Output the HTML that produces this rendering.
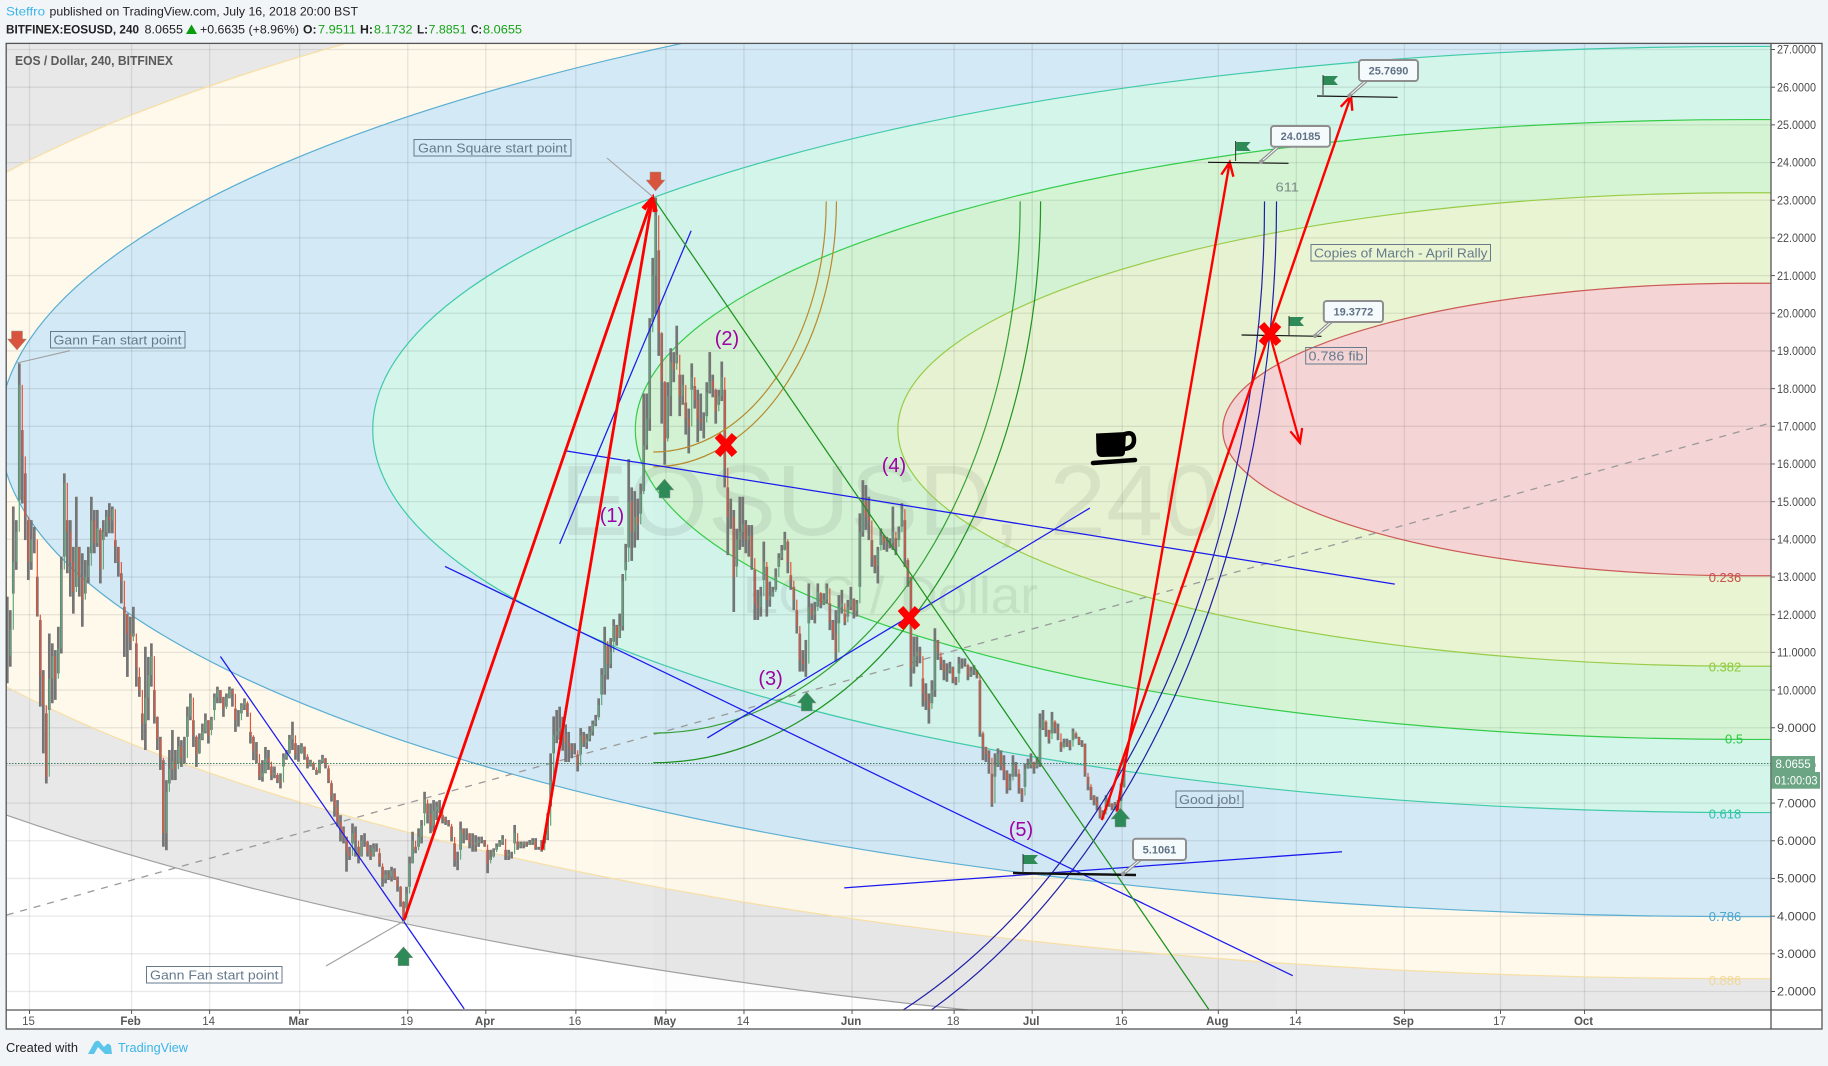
<!DOCTYPE html>
<html lang="en">
<head>
<meta charset="utf-8">
<title>EOS / Dollar, 240, BITFINEX</title>
<style>
html,body{margin:0;padding:0;background:#f1f5f8;}
svg{display:block;font-family:"Liberation Sans",sans-serif;}
</style>
</head>
<body>
<svg id="chart" xmlns="http://www.w3.org/2000/svg" width="1828" height="1066" viewBox="0 0 1828 1066">
  <defs>
    <clipPath id="plot-clip"><rect x="6.5" y="43.5" width="1764.5" height="966.5"/></clipPath>
  </defs>
  <rect x="0" y="0" width="1828" height="1066" fill="#f1f5f8"/>
  <rect x="6" y="43" width="1816" height="986" fill="#ffffff"/>

  <g clip-path="url(#plot-clip)">
    <g id="fib-fills"></g>
    <g id="grid"></g>
    <rect x="653" y="201" width="623" height="810" fill="rgba(50,50,160,0.012)"/>
    <text x="560" y="535" font-size="100" textLength="660" lengthAdjust="spacingAndGlyphs" fill="rgba(60,60,60,0.09)">EOSUSD, 240</text>
    <text x="743" y="613" font-size="52" textLength="295" lengthAdjust="spacingAndGlyphs" fill="rgba(60,60,60,0.09)">EOS / Dollar</text>
    <g id="fib-lines"></g>
    <g id="diagonal"></g>
    <g id="bars"></g>
    <line x1="6" y1="763.5" x2="1771" y2="763.5" stroke="#3d7d5c" stroke-width="1" stroke-dasharray="1.5 1.5"/>
    <g id="arcs"></g>
    <g id="trends"></g>
    <g id="arrows"></g>
  </g>

  <g stroke="#a0a0a0" stroke-width="1.1" fill="none">
    <line x1="17" y1="363" x2="70" y2="350.7"/>
    <line x1="607" y1="158" x2="652.7" y2="196.7"/>
    <line x1="326" y1="966" x2="404" y2="921"/>
  </g>

  <g stroke="#111" stroke-width="1.2">
    <line x1="1208" y1="162.3" x2="1288.5" y2="163.3"/>
    <line x1="1317" y1="96" x2="1397.6" y2="97.3"/>
    <line x1="1241.6" y1="335" x2="1321.5" y2="336.3"/>
    <line x1="1013" y1="873" x2="1136" y2="875" stroke-width="2.4"/>
  </g>

  <g>
    <g transform="translate(1235.6,141)"><line x1="0" y1="0" x2="0" y2="20" stroke="#333"/><polygon points="0.5,1 15,1 11,5.5 15,10 0.5,10" fill="#2e8b57"/></g>
    <g transform="translate(1323,75)"><line x1="0" y1="0" x2="0" y2="20" stroke="#333"/><polygon points="0.5,1 15,1 11,5.5 15,10 0.5,10" fill="#2e8b57"/></g>
    <g transform="translate(1289,316)"><line x1="0" y1="0" x2="0" y2="20" stroke="#333"/><polygon points="0.5,1 15,1 11,5.5 15,10 0.5,10" fill="#2e8b57"/></g>
    <g transform="translate(1023,854)"><line x1="0" y1="0" x2="0" y2="19" stroke="#333"/><polygon points="0.5,1 15,1 11,5.5 15,10 0.5,10" fill="#2e8b57"/></g>
  </g>

  <g font-size="11" font-weight="bold" text-anchor="middle">
    <g>
      <line x1="1279" y1="146" x2="1261" y2="161.7" stroke="#8e8e8e" stroke-width="3.4"/>
      <line x1="1279" y1="146" x2="1263" y2="160" stroke="#f5fbfd" stroke-width="1.1"/>
      <circle cx="1261" cy="161.7" r="2" fill="#999"/>
      <rect x="1271" y="126" width="59" height="20.7" rx="3" fill="#f5fbfd" stroke="#8e8e8e" stroke-width="2"/>
      <text x="1300.5" y="140" fill="#5f7184">24.0185</text>
    </g>
    <g>
      <line x1="1367" y1="80" x2="1349.3" y2="95.7" stroke="#8e8e8e" stroke-width="3.4"/>
      <line x1="1367" y1="80" x2="1351.3" y2="94" stroke="#f5fbfd" stroke-width="1.1"/>
      <circle cx="1349.3" cy="95.7" r="2" fill="#999"/>
      <rect x="1359" y="60" width="59" height="21" rx="3" fill="#f5fbfd" stroke="#8e8e8e" stroke-width="2"/>
      <text x="1388.5" y="74.5" fill="#5f7184">25.7690</text>
    </g>
    <g>
      <line x1="1332" y1="321" x2="1315" y2="336" stroke="#8e8e8e" stroke-width="3.4"/>
      <line x1="1332" y1="321" x2="1317" y2="334.3" stroke="#f5fbfd" stroke-width="1.1"/>
      <circle cx="1315" cy="336" r="2" fill="#999"/>
      <rect x="1323.8" y="301" width="59.2" height="21" rx="3" fill="#f5fbfd" stroke="#8e8e8e" stroke-width="2"/>
      <text x="1353.4" y="315.5" fill="#5f7184">19.3772</text>
    </g>
    <g>
      <line x1="1141" y1="859" x2="1123" y2="874" stroke="#8e8e8e" stroke-width="3.4"/>
      <line x1="1141" y1="859" x2="1125" y2="872.3" stroke="#f5fbfd" stroke-width="1.1"/>
      <circle cx="1123" cy="874" r="2" fill="#999"/>
      <rect x="1133" y="838.7" width="53" height="21.3" rx="3" fill="#f5fbfd" stroke="#8e8e8e" stroke-width="2"/>
      <text x="1159.5" y="853.5" fill="#5f7184">5.1061</text>
    </g>
  </g>

  <g stroke="#9a9a9a" stroke-width="0.5">
    <polygon transform="translate(17,331)" points="-5.5,0 5.5,0 5.5,8 9.5,8 0,19 -9.5,8 -5.5,8" fill="#d9543c"/>
    <polygon transform="translate(655.5,172)" points="-5.5,0 5.5,0 5.5,8 9.5,8 0,19 -9.5,8 -5.5,8" fill="#d9543c"/>
    <polygon transform="translate(403.5,946.7)" points="0,0 9.5,11 5.5,11 5.5,19 -5.5,19 -5.5,11 -9.5,11" fill="#2e8b57"/>
    <polygon transform="translate(664.5,479)" points="0,0 9.5,11 5.5,11 5.5,19 -5.5,19 -5.5,11 -9.5,11" fill="#2e8b57"/>
    <polygon transform="translate(806.7,692)" points="0,0 9.5,11 5.5,11 5.5,19 -5.5,19 -5.5,11 -9.5,11" fill="#2e8b57"/>
    <polygon transform="translate(1120.5,808)" points="0,0 9.5,11 5.5,11 5.5,19 -5.5,19 -5.5,11 -9.5,11" fill="#2e8b57"/>
  </g>

  <g stroke="#ff0000" stroke-width="7.5">
    <g transform="translate(726,445)"><line x1="-8.5" y1="-9.5" x2="8.5" y2="9.5"/><line x1="8.5" y1="-9.5" x2="-8.5" y2="9.5"/></g>
    <g transform="translate(909,618)"><line x1="-8.5" y1="-9.5" x2="8.5" y2="9.5"/><line x1="8.5" y1="-9.5" x2="-8.5" y2="9.5"/></g>
    <g transform="translate(1270,334)"><line x1="-8.5" y1="-9.5" x2="8.5" y2="9.5"/><line x1="8.5" y1="-9.5" x2="-8.5" y2="9.5"/></g>
  </g>

  <g>
    <path d="M1096 433.5 L1126 432 L1125 452 Q1125 456.5 1120 456.5 L1102 457 Q1097 457 1096.5 452 Z" fill="#000"/>
    <path d="M1125 434 Q1134 431 1134 440 Q1134 448 1124 449" fill="none" stroke="#000" stroke-width="4.5"/>
    <line x1="1093" y1="463" x2="1135" y2="460" stroke="#000" stroke-width="4.5" stroke-linecap="round"/>
  </g>

  <g font-size="20" fill="#a100a6" text-anchor="middle">
    <text x="612" y="522">(1)</text>
    <text x="727" y="345">(2)</text>
    <text x="770.6" y="685">(3)</text>
    <text x="894" y="472">(4)</text>
    <text x="1021" y="836">(5)</text>
  </g>

  <g font-size="13" fill="#667a8c">
    <g><rect x="414" y="139.5" width="157" height="16.5" fill="none" stroke="#667a8c"/><text x="418" y="152.5" textLength="149" lengthAdjust="spacingAndGlyphs">Gann Square start point</text></g>
    <g><rect x="50.5" y="331.5" width="134.5" height="16.5" fill="none" stroke="#667a8c"/><text x="53.5" y="344.5" textLength="128" lengthAdjust="spacingAndGlyphs">Gann Fan start point</text></g>
    <g><rect x="146.5" y="966.5" width="135.5" height="16.5" fill="none" stroke="#667a8c"/><text x="150" y="979.5" textLength="128.5" lengthAdjust="spacingAndGlyphs">Gann Fan start point</text></g>
    <g><rect x="1311" y="244.5" width="179.5" height="16.5" fill="none" stroke="#667a8c"/><text x="1314" y="257.5" textLength="173.5" lengthAdjust="spacingAndGlyphs">Copies of March - April Rally</text></g>
    <g><rect x="1305.7" y="347.5" width="60.8" height="16.5" fill="none" stroke="#667a8c"/><text x="1308.5" y="360.5" textLength="55" lengthAdjust="spacingAndGlyphs">0.786 fib</text></g>
    <g><rect x="1176" y="791" width="67" height="16.5" fill="none" stroke="#667a8c"/><text x="1179" y="804" textLength="61" lengthAdjust="spacingAndGlyphs">Good job!</text></g>
    <text x="1275.5" y="191.5" fill="#7d8a86" textLength="23.5" lengthAdjust="spacingAndGlyphs">611</text>
  </g>

  <text x="15" y="65" font-size="13" font-weight="bold" fill="#5a5a5a" textLength="158" lengthAdjust="spacingAndGlyphs">EOS / Dollar, 240, BITFINEX</text>

  <g id="fib-labels"></g>

  <g fill="none" stroke="#555555" stroke-width="1.3">
    <rect x="6.2" y="43.4" width="1815.8" height="985.6"/>
    <line x1="1771" y1="43.4" x2="1771" y2="1029"/>
    <line x1="6.2" y1="1010" x2="1822" y2="1010"/>
  </g>
  <g id="x-axis"></g>
  <g id="y-axis"></g>

  <g font-size="11.5" fill="#ffffff">
    <rect x="1771.4" y="756" width="43.6" height="16" fill="#6ba583"/>
    <text x="1775.5" y="768">8.0655</text>
    <rect x="1771.4" y="772" width="48.6" height="16.7" fill="#6ba583"/>
    <text x="1774.5" y="784.5" textLength="43" lengthAdjust="spacingAndGlyphs">01:00:03</text>
  </g>

  <g font-size="12">
    <text x="6" y="15.7" fill="#3cb4e8" textLength="39" lengthAdjust="spacingAndGlyphs">Steffro</text>
    <text x="49.5" y="15.7" fill="#222" textLength="308.5" lengthAdjust="spacingAndGlyphs">published on TradingView.com, July 16, 2018 20:00 BST</text>
  </g>
  <g font-size="12" fill="#222">
    <text x="6" y="33.7" font-weight="bold" textLength="133" lengthAdjust="spacingAndGlyphs">BITFINEX:EOSUSD, 240</text>
    <text x="144.5" y="33.7" textLength="38.5" lengthAdjust="spacingAndGlyphs">8.0655</text>
    <polygon points="191.5,24.5 197,34 186,34" fill="#0a9d0a"/>
    <text x="200" y="33.7" textLength="99" lengthAdjust="spacingAndGlyphs">+0.6635 (+8.96%)</text>
    <text x="303" y="33.7" font-weight="bold" textLength="13.5" lengthAdjust="spacingAndGlyphs">O:</text>
    <text x="318" y="33.7" fill="#16a316" textLength="38" lengthAdjust="spacingAndGlyphs">7.9511</text>
    <text x="360" y="33.7" font-weight="bold" textLength="13" lengthAdjust="spacingAndGlyphs">H:</text>
    <text x="374" y="33.7" fill="#16a316" textLength="38.5" lengthAdjust="spacingAndGlyphs">8.1732</text>
    <text x="417" y="33.7" font-weight="bold" textLength="11" lengthAdjust="spacingAndGlyphs">L:</text>
    <text x="428.5" y="33.7" fill="#16a316" textLength="38" lengthAdjust="spacingAndGlyphs">7.8851</text>
    <text x="471" y="33.7" font-weight="bold" textLength="11" lengthAdjust="spacingAndGlyphs">C:</text>
    <text x="483" y="33.7" fill="#16a316" textLength="39" lengthAdjust="spacingAndGlyphs">8.0655</text>
  </g>

  <g>
    <text x="6" y="1052" font-size="12.5" fill="#222" textLength="72" lengthAdjust="spacingAndGlyphs">Created with</text>
    <path d="M88 1054 L94 1043 Q96 1040 99 1041 L104 1047 L107 1044 Q109 1043 111 1046 L112 1054 L105 1054 L98 1047 L94 1054 Z" fill="#5cc5ea"/>
    <text x="118" y="1052" font-size="12.5" fill="#3cb4e8" textLength="70" lengthAdjust="spacingAndGlyphs">TradingView</text>
  </g>
</svg>

<script>
const firstBarDay = -3.7;
const barStepDays = 0.5;
const barHigh = [
12.48,12.12,14.87,14.51,18.67,16.90,15.75,14.51,14.51,14.33,13.01,11.86,10.53,9.38,11.50,11.24,11.06,11.68,13.54,15.75,14.51,14.51,13.80,15.13,13.80,13.63,13.45,13.80,15.13,14.78,14.78,14.25,14.51,14.78,14.96,14.87,13.98,13.80,13.10,12.21,12.03,11.95,12.21,11.24,10.35,9.38,11.15,10.88,11.24,10.00,9.29,8.76,8.14,7.61,8.41,8.94,8.41,8.76,8.67,8.76,9.56,9.91,9.20,8.76,8.85,9.11,9.38,9.20,9.29,9.91,10.09,10.00,9.82,9.91,10.09,10.04,9.51,9.47,9.65,9.78,9.65,8.89,8.76,8.62,8.05,8.14,8.49,
8.41,7.97,7.97,7.75,7.79,8.32,8.41,8.81,9.16,8.59,8.54,8.59,8.50,8.23,8.15,8.06,7.88,8.15,8.28,8.19,7.92,7.53,7.26,7.08,6.68,6.38,6.11,5.84,6.46,6.38,5.84,6.15,6.20,5.98,5.89,5.93,5.93,5.67,5.31,5.22,5.22,5.31,5.27,5.05,4.78,4.38,4.78,5.58,6.24,5.84,6.33,6.55,7.30,6.99,6.99,7.08,7.04,7.08,6.68,6.64,6.55,6.38,5.93,5.71,6.51,6.33,6.33,6.20,6.20,6.15,6.11,6.11,6.02,5.76,5.76,5.80,5.93,6.02,6.15,5.76,5.76,5.71,6.42,5.98,5.98,5.98,5.98,6.02,6.07,6.07,5.84,6.02,6.11,6.73,8.32,9.30,9.47,9.56,
9.29,9.09,8.89,8.59,8.59,8.29,8.99,8.89,8.84,9.04,9.19,9.34,9.78,10.58,11.68,11.18,11.38,11.88,11.73,12.03,13.08,13.88,16.13,15.38,15.28,15.08,15.48,17.87,17.87,19.87,21.47,23.07,21.67,19.47,18.17,18.17,19.07,18.97,19.67,18.37,18.37,17.63,17.47,18.67,18.07,17.97,17.87,17.37,18.17,18.97,18.37,17.97,17.97,18.72,17.97,15.38,15.08,14.78,14.28,
15.13,15.13,14.51,14.38,14.38,13.19,12.66,12.74,13.94,13.27,12.88,12.74,13.23,13.63,13.85,14.20,13.94,13.05,12.74,12.12,11.50,11.06,11.33,12.83,12.30,12.34,12.83,12.57,12.57,12.83,12.30,11.86,12.12,12.52,12.66,12.03,12.39,12.74,12.43,12.39,14.69,15.57,15.44,15.13,13.98,13.58,13.80,14.29,14.11,14.07,14.03,14.87,14.03,14.34,14.96,14.51,13.45,13.01,11.42,11.42,11.15,10.31,10.18,9.91,10.26,11.64,11.33,10.88,10.80,10.71,10.75,10.62,10.35,10.88,10.84,10.84,10.66,10.62,10.66,10.53,
10.26,8.85,8.49,8.40,7.78,8.32,8.45,8.40,8.27,7.87,7.78,8.27,8.09,7.78,7.39,8.05,8.18,8.32,8.09,8.23,9.38,9.47,9.16,8.94,9.42,9.16,9.11,8.62,8.71,8.71,8.67,8.98,8.85,8.76,8.67,8.58,7.70,7.43,7.21,7.17,6.90,6.81,7.21,7.12,6.99,7.03,7.08,7.52,8.18
];
const barLow = [
10.18,10.62,12.56,13.19,15.04,14.95,13.98,12.92,13.19,13.63,11.95,9.56,8.32,7.52,9.47,9.65,9.74,10.44,10.97,13.54,13.10,12.48,12.03,12.74,12.48,11.68,12.56,12.83,13.63,13.63,13.80,12.83,13.98,14.07,14.16,14.16,13.37,13.01,12.30,10.88,10.35,11.06,11.42,10.09,9.82,8.67,8.41,9.20,10.09,9.11,8.41,7.88,5.84,5.75,7.52,7.61,7.61,8.05,7.96,8.05,8.76,9.20,8.49,7.96,8.32,8.67,8.85,8.58,8.94,9.47,9.65,9.65,9.29,9.56,9.78,9.56,8.89,9.03,9.38,9.47,9.29,8.58,8.14,8.05,7.61,7.57,7.79,
7.88,7.61,7.66,7.53,7.39,7.97,8.15,8.32,8.41,8.15,8.10,8.32,8.15,7.92,7.97,7.88,7.75,7.79,8.06,7.92,7.53,7.04,6.64,6.38,5.98,5.93,5.18,5.49,5.93,5.58,5.40,5.58,5.84,5.58,5.49,5.58,5.71,5.31,4.78,4.87,4.96,4.92,4.96,4.65,4.25,3.85,4.21,4.78,5.40,5.67,5.84,5.93,6.73,6.46,6.20,6.24,6.55,6.73,6.46,6.42,6.38,5.98,5.31,5.22,5.76,5.93,6.02,5.80,5.71,5.71,5.84,5.93,5.84,5.14,5.49,5.58,5.76,5.84,5.89,5.49,5.49,5.53,5.93,5.76,5.80,5.80,5.84,5.89,5.89,5.76,5.76,5.71,5.93,6.02,6.91,8.32,8.59,8.68,
8.39,8.09,8.09,8.19,8.29,7.84,8.29,8.49,8.44,8.64,8.79,9.04,9.28,9.88,9.88,10.28,10.58,11.28,11.18,11.38,11.58,13.18,13.78,13.43,13.78,13.98,14.68,15.28,16.38,16.88,19.77,19.97,18.87,17.07,15.98,16.68,17.27,18.17,18.67,17.27,17.57,16.78,16.28,17.97,17.47,16.58,16.88,16.68,17.27,17.87,17.77,17.07,17.57,17.67,15.38,13.58,14.28,12.07,13.28,
13.72,13.80,13.63,13.54,13.19,11.86,11.86,11.95,12.92,11.95,12.21,12.48,12.66,13.27,13.45,13.72,13.10,12.66,12.12,11.50,10.49,10.49,10.35,11.77,11.86,11.77,12.21,12.17,12.26,12.30,11.59,11.33,10.75,11.77,12.03,11.72,11.95,12.12,11.90,11.95,12.74,14.07,14.25,13.98,13.27,13.10,12.83,13.85,13.72,13.67,13.76,13.72,13.58,13.98,14.34,13.27,12.74,10.09,10.44,10.62,10.71,9.56,9.47,9.11,9.65,9.82,10.80,10.53,10.26,10.22,10.44,10.18,10.13,10.44,10.57,10.62,10.26,10.35,10.40,10.31,
8.76,8.14,8.09,7.78,6.90,7.70,7.96,7.87,7.61,7.25,7.34,7.70,7.70,7.25,7.03,7.43,7.92,7.92,7.78,7.92,7.96,8.94,8.76,8.58,8.85,8.85,8.67,8.36,8.49,8.49,8.40,8.67,8.71,8.54,8.49,7.70,7.34,7.08,6.94,6.81,6.59,6.59,6.81,6.90,6.81,6.81,6.77,7.05,7.43
];
const barClose = [
10.9,11.6,13.4,14.2,18.1,16.2,14.6,13.4,14.0,14.0,12.0,10.4,9.6,7.7,10.3,10.9,10.3,11.1,13.2,15.5,14.2,13.4,12.6,13.8,13.0,12.4,13.0,13.3,14.5,13.9,14.3,13.2,14.2,14.6,14.5,14.8,13.8,13.4,12.9,12.0,11.5,11.3,11.5,10.6,10.0,9.1,9.8,10.4,10.9,9.3,8.7,8.2,6.2,7.3,7.9,8.1,7.9,8.5,8.2,8.2,9.3,9.8,8.8,8.3,8.7,8.9,9.2,8.8,9.2,9.8,10.0,9.8,9.5,9.8,10.0,9.9,9.2,9.2,9.6,9.7,9.4,8.8,8.4,8.3,7.7,7.8,8.2,
8.1,7.75,7.8,7.6,7.55,8.2,8.3,8.7,8.8,8.3,8.3,8.5,8.3,8.0,8.1,7.95,7.8,8.1,8.2,8.0,7.6,7.2,6.9,6.5,6.3,6.1,5.7,5.6,6.2,6.0,5.6,6.0,6.0,5.7,5.6,5.8,5.8,5.4,5.0,5.1,5.05,5.2,5.0,4.8,4.4,3.95,4.6,5.4,6.0,5.75,6.1,6.4,7.1,6.7,6.4,6.8,6.9,6.9,6.6,6.5,6.45,6.1,5.5,5.5,6.3,6.2,6.2,5.95,5.9,5.95,6.0,6.0,5.9,5.4,5.55,5.7,5.85,5.95,6.05,5.6,5.65,5.65,6.2,5.85,5.9,5.95,5.9,5.95,6.0,5.8,5.8,5.75,6.05,6.4,7.6,8.8,8.9,9.0,
8.8,8.6,8.5,8.4,8.4,8.0,8.8,8.6,8.7,8.9,9.1,9.2,9.6,10.4,11.3,10.7,11.0,11.7,11.4,11.7,12.9,13.4,15.0,14.2,14.6,14.4,15.2,16.5,17.2,19.5,21.0,22.6,19.5,18.2,16.6,17.8,18.7,18.5,18.9,17.8,18.1,17.2,17.0,18.3,17.7,17.2,17.1,17.1,17.9,18.2,18.0,17.4,17.8,18.3,15.9,14.6,14.6,13.0,14.0,
14.2,14.4,14.0,14.1,13.5,12.3,12.2,12.5,13.4,12.4,12.5,12.6,13.0,13.5,13.7,14.0,13.4,12.9,12.4,11.7,10.8,10.7,10.7,12.2,12.0,12.1,12.6,12.3,12.4,12.7,11.8,11.5,11.0,12.2,12.3,11.8,12.2,12.4,12.1,12.3,14.2,15.0,14.6,14.5,13.5,13.3,13.7,14.1,13.9,13.9,13.9,14.2,13.8,14.2,14.8,13.5,13.0,10.6,10.9,11.0,10.9,9.9,9.7,9.5,10.0,11.3,11.0,10.7,10.5,10.5,10.6,10.3,10.2,10.7,10.7,10.7,10.4,10.5,10.5,10.4,
8.9,8.5,8.3,8.2,7.0,8.0,8.3,8.0,7.8,7.4,7.6,8.0,7.9,7.4,7.2,7.9,8.0,8.1,7.95,8.05,9.0,9.2,8.95,8.7,9.2,9.0,8.85,8.45,8.6,8.6,8.5,8.9,8.75,8.6,8.55,7.8,7.5,7.2,7.05,6.95,6.65,6.7,7.1,7.0,6.9,6.95,6.85,7.4,8.07
];

const priceTicks = [2,3,4,5,6,7,8,9,10,11,12,13,14,15,16,17,18,19,20,21,22,23,24,25,26,27];
const timeTickDays = [0,17,30,45,63,76,91,106,119,137,154,167,182,198,211,229,245,259];
const timeTickLabels = ["15","Feb","14","Mar","19","Apr","16","May","14","Jun","18","Jul","16","Aug","14","Sep","17","Oct"];
const timeTickBold = [0,1,0,1,0,1,0,1,0,1,0,1,0,1,0,1,0,1];

const fibLevels = [1,0.886,0.786,0.618,0.5,0.382,0.236];
const fibFills = ["#e8e8e8","#fff9eb","#d3e9f5","#d3f5ea","#d4f4d4","#e9f4d3","#f4d4d4"];
const fibStrokes = ["#a0a0a0","#f7dfa5","#5aaed2","#3fcaa8","#35cc4a","#98cc48","#cc5a55"];
const fibCenterDay = 286.2;
const fibCenterPrice = 16.915;
const fibRadiusDays = 370.6;
const fibRadiusPrice = 16.45;

const arcOriginDay = 103.9;
const arcOriginPrice = 22.97;
const arcWidthsDays = [28.8,30.5,61.1,64.5,101.8,103.8];
const arcColors = ["#b8892e","#b8892e","#35a035","#1f931f","#1f1fa6","#1f1fa6"];
const arcPricePerDay = 0.231;

const diagonalStart = [-3.8,4.03];
const diagonalEnd = [290,17.09];

const trendStartDays = [31.8,88.3,89.2,69.2,112.9,135.7,103.8];
const trendStartPrices = [10.89,13.88,16.35,13.28,8.73,4.75,23.08];
const trendEndDays = [72.4,110.2,227.4,210.4,176.6,218.6,196.4];
const trendEndPrices = [1.54,22.19,12.81,2.42,14.83,5.71,1.53];
const trendColors = ["#1a1aee","#1a1aee","#1a1aee","#1a1aee","#1a1aee","#1a1aee","#1f931f"];

const arrowStartDays = [62.4,85.4,181.1,178.6,206.6];
const arrowStartPrices = [3.90,5.76,6.77,6.55,19.42];
const arrowEndDays = [103.8,103.8,199.9,220.1,211.6];
const arrowEndPrices = [23.08,23.08,24.01,25.77,16.56];
const arrowWidths = [2.8,2.8,2.4,2.4,2.2];

const fibLabelTexts = ["0.886","0.786","0.618","0.5","0.382","0.236"];
const fibLabelPrices = [2.3,4.0,6.73,8.72,10.62,13.0];
const fibLabelColors = ["#f0d898","#4ea6cd","#2ec4a0","#27c93f","#8fc93a","#c9504b"];

const SVGNS = "http://www.w3.org/2000/svg";
function xDay(d){ return 29.5 + d * 6.004; }
function yPrice(p){ return 991.5 - (p - 2) * 37.68; }
function make(tag, parent, attrs){
  const el = document.createElementNS(SVGNS, tag);
  for (const k in attrs) el.setAttribute(k, attrs[k]);
  document.getElementById(parent).appendChild(el);
  return el;
}

fibLevels.forEach(function(level, i){
  const a = level * fibRadiusDays * 6.004;
  const b = level * fibRadiusPrice * 37.68;
  const cx = xDay(fibCenterDay);
  const cy = yPrice(fibCenterPrice);
  const arc = "M1772 " + (cy - b) + " L" + cx + " " + (cy - b) + " A" + a + " " + b + " 0 0 0 " + cx + " " + (cy + b) + " L1772 " + (cy + b);
  const fill = make("path", "fib-fills", {d: arc + " Z", fill: fibFills[i]});
  
  
  const line = make("path", "fib-lines", {d: arc, fill: "none", stroke: fibStrokes[i], "stroke-width": 1.2});
  
  
});

priceTicks.forEach(function(p){
  const y = yPrice(p);
  const g = make("line", "grid", {x1: 6, y1: y, x2: 1771, y2: y, stroke: "rgba(40,40,40,0.1)", "stroke-width": 1.3});
  
  
  const t = make("line", "y-axis", {x1: 1771, y1: y, x2: 1775, y2: y, stroke: "#555"});
  
  
  const l = make("text", "y-axis", {x: 1777, y: y + 4.2, "font-size": 11.5, fill: "#4a4a4a", textLength: 39, lengthAdjust: "spacingAndGlyphs"});
  
  
  l.textContent = p.toFixed(4);
});

timeTickDays.forEach(function(d, i){
  const x = xDay(d);
  const g = make("line", "grid", {x1: x, y1: 43, x2: x, y2: 1010, stroke: "rgba(40,40,40,0.1)", "stroke-width": 1.3});
  
  
  const t = make("line", "x-axis", {x1: x, y1: 1010, x2: x, y2: 1014, stroke: "#555"});
  
  
  const l = make("text", "x-axis", {x: x - 1, y: 1025, "font-size": 11.5, fill: "#555", "text-anchor": "middle", "font-weight": timeTickBold[i] ? "bold" : "normal"});
  
  
  l.textContent = timeTickLabels[i];
});

const diag = make("line", "diagonal", {x1: xDay(diagonalStart[0]), y1: yPrice(diagonalStart[1]), x2: xDay(diagonalEnd[0]), y2: yPrice(diagonalEnd[1]), stroke: "#9a9a9a", "stroke-width": 1.3, "stroke-dasharray": "7 7"});



const barCount = Math.min(barHigh.length, barLow.length, barClose.length);
for (let i = 0; i < barCount; i++) {
  const x = xDay(firstBarDay + i * barStepDays);
  const wick = make("line", "bars", {x1: x, y1: yPrice(barHigh[i]), x2: x, y2: yPrice(barLow[i]), stroke: "#757575", "stroke-width": 2.7});
  
  
}
for (let i = 1; i < barCount; i++) {
  const x = xDay(firstBarDay + i * barStepDays);
  const up = barClose[i] >= barClose[i - 1];
  const body = make("line", "bars", {x1: x, y1: yPrice(barClose[i - 1]), x2: x, y2: yPrice(barClose[i]), stroke: up ? "#5da97c" : "#e5533a", "stroke-width": 1.2});
  
  
}

arcWidthsDays.forEach(function(w, i){
  const ox = xDay(arcOriginDay);
  const oy = yPrice(arcOriginPrice);
  const a = w * 6.004;
  const b = w * arcPricePerDay * 37.68;
  const arc = make("path", "arcs", {d: "M" + ox + " " + (oy + b) + " A" + a + " " + b + " 0 0 0 " + (ox + a) + " " + oy, fill: "none", stroke: arcColors[i], "stroke-width": 1.2});
  
  
});

trendStartDays.forEach(function(d, i){
  const line = make("line", "trends", {x1: xDay(d), y1: yPrice(trendStartPrices[i]), x2: xDay(trendEndDays[i]), y2: yPrice(trendEndPrices[i]), stroke: trendColors[i], "stroke-width": 1.25});
  
  
});

arrowStartDays.forEach(function(d, i){
  const x1 = xDay(d), y1 = yPrice(arrowStartPrices[i]);
  const x2 = xDay(arrowEndDays[i]), y2 = yPrice(arrowEndPrices[i]);
  const ang = Math.atan2(y2 - y1, x2 - x1);
  const len = 15, spread = 0.42;
  const wing1x = x2 - len * Math.cos(ang - spread), wing1y = y2 - len * Math.sin(ang - spread);
  const wing2x = x2 - len * Math.cos(ang + spread), wing2y = y2 - len * Math.sin(ang + spread);
  const arrow = make("path", "arrows", {d: "M" + x1 + " " + y1 + " L" + x2 + " " + y2 + " M" + wing1x + " " + wing1y + " L" + x2 + " " + y2 + " L" + wing2x + " " + wing2y, fill: "none", stroke: "#ff0000", "stroke-width": arrowWidths[i]});
  
  
});

fibLabelTexts.forEach(function(txt, i){
  const l = make("text", "fib-labels", {x: 1725, y: yPrice(fibLabelPrices[i]) + 5, "font-size": 13, fill: fibLabelColors[i], "text-anchor": txt === "0.5" ? "start" : "middle"});
  
  
  l.textContent = txt;
});
</script>
</body>
</html>
